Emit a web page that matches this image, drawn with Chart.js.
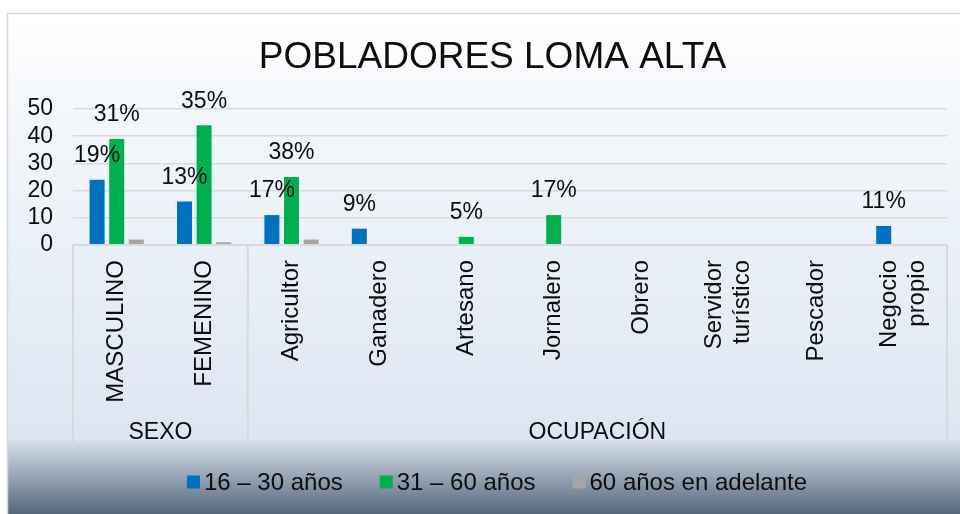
<!DOCTYPE html>
<html>
<head>
<meta charset="utf-8">
<script src="https://cdn.jsdelivr.net/npm/chart.js@4/dist/chart.umd.min.js"></script>
<style>
  html, body { margin: 0; padding: 0; background: #ffffff; }
  #wrap { width: 960px; height: 514px; position: relative; }
</style>
</head>
<body>
<div id="wrap"><canvas id="c" width="960" height="514"></canvas></div>
<script>
// ---- data ----
const chartTitle = 'POBLADORES LOMA ALTA';
const categories = [
  ['MASCULINO'], ['FEMENINO'], ['Agricultor'], ['Ganadero'], ['Artesano'],
  ['Jornalero'], ['Obrero'], ['Servidor', 'turístico'], ['Pescador'], ['Negocio', 'propio']
];
const groupNames = ['SEXO', 'OCUPACIÓN'];
const groupSizes = [2, 8];
const seriesNames = ['16 – 30 años', '31 – 60 años', '60 años en adelante'];
const young = [24, 16, 11, 6, 0, 0, 0, 0, 0, 7];
const adult = [39, 44, 25, 0, 3, 11, 0, 0, 0, 0];
const senior = [2, 1, 2, 0, 0, 0, 0, 0, 0, 0];
const youngLabels = ['19%', '13%', '17%', '9%', '', '', '', '', '', '11%'];
const adultLabels = ['31%', '35%', '38%', '', '5%', '17%', '', '', '', ''];
const seniorLabels = ['', '', '', '', '', '', '', '', '', ''];
const yTicks = [0, 10, 20, 30, 40, 50];

const COLORS = ['#0070C0', '#00B050', '#A5A5A5'];
const FONT = '"Liberation Sans", Arial, sans-serif';
const TEXT = '#0d0d0d';
const LINE = '#d9d9d9';

const bgPlugin = {
  id: 'bg',
  beforeDraw(chart) {
    const ctx = chart.ctx;
    const W = chart.width, H = chart.height;
    ctx.save();
    ctx.fillStyle = '#ffffff';
    ctx.fillRect(0, 0, W, H);
    const g = ctx.createLinearGradient(0, 13, 0, H);
    const span = H - 13;
    g.addColorStop(0, '#ffffff');
    g.addColorStop((120 - 13) / span, '#f3f7fb');
    g.addColorStop((440 - 13) / span, '#dce6f2');
    g.addColorStop((442 - 13) / span, '#d3dde9');
    g.addColorStop(1, '#56667b');
    ctx.fillStyle = g;
    ctx.fillRect(7, 13, W - 7, H - 13);
    ctx.strokeStyle = LINE;
    ctx.lineWidth = 1.5;
    ctx.beginPath();
    ctx.moveTo(7, 13.5); ctx.lineTo(W, 13.5);
    ctx.moveTo(7.5, 13); ctx.lineTo(7.5, H);
    ctx.stroke();
    // title
    ctx.fillStyle = TEXT;
    ctx.font = '37px ' + FONT;
    ctx.textAlign = 'center';
    ctx.textBaseline = 'alphabetic';
    ctx.fillText(chartTitle, 492.5, 68);
    ctx.restore();
  }
};

const decoPlugin = {
  id: 'deco',
  afterDatasetsDraw(chart) {
    const ctx = chart.ctx;
    const labelSets = [youngLabels, adultLabels, seniorLabels];
    ctx.save();
    ctx.fillStyle = TEXT;
    ctx.font = '23px ' + FONT;
    ctx.textAlign = 'center';
    ctx.textBaseline = 'middle';
    chart.data.datasets.forEach((ds, di) => {
      const meta = chart.getDatasetMeta(di);
      meta.data.forEach((bar, i) => {
        const t = labelSets[di][i];
        if (t) ctx.fillText(t, bar.x, bar.y - 24);
      });
    });
    ctx.restore();
  },
  afterDraw(chart) {
    const ctx = chart.ctx;
    const x = chart.scales.x;
    const area = chart.chartArea;
    const n = categories.length;
    const step = (area.right - area.left) / n;
    const boxBottom = x.bottom;
    ctx.save();
    // category boxes
    ctx.strokeStyle = LINE;
    ctx.lineWidth = 2;
    ctx.beginPath();
    ctx.moveTo(area.left, area.bottom); ctx.lineTo(area.right, area.bottom);
    let idx = 0;
    const bounds = [area.left];
    groupSizes.forEach(s => { idx += s; bounds.push(area.left + idx * step); });
    bounds.forEach(bx => { ctx.moveTo(bx, area.bottom); ctx.lineTo(bx, boxBottom); });
    ctx.stroke();
    // category labels (rotated)
    ctx.fillStyle = TEXT;
    ctx.font = '24px ' + FONT;
    ctx.textAlign = 'right';
    ctx.textBaseline = 'middle';
    categories.forEach((lines, i) => {
      const cx = x.getPixelForValue(i);
      const lh = 28;
      lines.forEach((ln, li) => {
        const off = (li - (lines.length - 1) / 2) * lh;
        ctx.save();
        ctx.translate(cx + off, area.bottom + 15);
        ctx.rotate(-Math.PI / 2);
        ctx.fillText(ln, 0, 0);
        ctx.restore();
      });
    });
    // group labels
    ctx.font = '23px ' + FONT;
    ctx.textAlign = 'center';
    groupNames.forEach((g, gi) => {
      const cx = (bounds[gi] + bounds[gi + 1]) / 2;
      ctx.fillText(g, cx, boxBottom - 14);
    });
    // legend
    ctx.font = '24px ' + FONT;
    ctx.textAlign = 'left';
    const box = 13, gap = 4, itemGap = 37;
    const widths = seriesNames.map(s => ctx.measureText(s).width);
    const total = widths.reduce((a, b) => a + b, 0) + seriesNames.length * (box + gap) + (seriesNames.length - 1) * itemGap;
    let lx = 497 - total / 2;
    const ly = 482;
    seriesNames.forEach((s, i) => {
      ctx.fillStyle = COLORS[i];
      ctx.fillRect(lx, ly - box / 2, box, box);
      ctx.fillStyle = TEXT;
      ctx.fillText(s, lx + box + gap, ly + 1);
      lx += box + gap + widths[i] + itemGap;
    });
    ctx.restore();
  }
};

new Chart(document.getElementById('c'), {
  type: 'bar',
  data: {
    labels: categories,
    datasets: [
      { label: seriesNames[0], data: young, backgroundColor: COLORS[0] },
      { label: seriesNames[1], data: adult, backgroundColor: COLORS[1] },
      { label: seriesNames[2], data: senior, backgroundColor: COLORS[2] }
    ]
  },
  options: {
    responsive: false,
    animation: false,
    devicePixelRatio: 1,
    categoryPercentage: 0.673,
    barPercentage: 0.765,
    layout: { padding: { left: 0, right: 13, top: 109, bottom: 67 } },
    plugins: {
      legend: { display: false },
      tooltip: { enabled: false },
      title: { display: false }
    },
    scales: {
      x: {
        display: true,
        grid: { display: false, drawTicks: false },
        border: { display: false },
        ticks: { display: false },
        afterFit(s) { s.height = 202; }
      },
      y: {
        min: 0,
        max: 50,
        afterBuildTicks(s) { s.ticks = yTicks.map(v => ({ value: v })); },
        grid: { color: LINE, lineWidth: 1.5, drawTicks: false },
        border: { display: false },
        ticks: {
          autoSkip: false,
          padding: 20,
          color: TEXT,
          font: { family: FONT, size: 23 }
        },
        afterFit(s) { s.width = 73; }
      }
    }
  },
  plugins: [bgPlugin, decoPlugin]
});
</script>
</body>
</html>
